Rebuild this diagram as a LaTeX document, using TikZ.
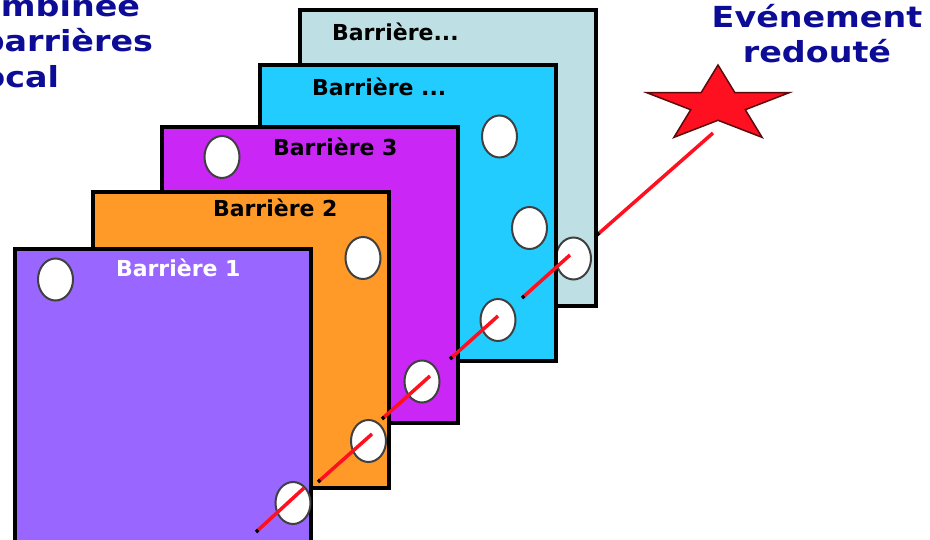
\documentclass[tikz,border=0pt]{standalone}
\usepackage{fontspec}
\setmainfont{DejaVu Sans}
\usetikzlibrary{shapes.geometric, arrows.meta}
\definecolor{lilac}{RGB}{153,102,255}
\definecolor{tangerine}{RGB}{255,153,40}
\definecolor{orchid}{RGB}{202,38,245}
\definecolor{skyblue}{RGB}{34,204,255}
\definecolor{frost}{RGB}{190,224,228}
\definecolor{navyink}{RGB}{12,12,150}
\definecolor{starred}{RGB}{255,16,32}
\definecolor{starline}{RGB}{90,10,10}

\begin{document}
\begin{tikzpicture}[
  x=1pt, y=-1pt,
  every node/.style={
    inner sep=0pt,
    outer sep=0pt,
  },
  barrier/.style={draw=black, line width=3.5pt, minimum width=296pt, minimum height=296pt, anchor=north west},
  hole/.style={ellipse, draw=black!75, line width=2pt, fill=white, minimum width=35pt, minimum height=42pt},
  tag/.style={anchor=base west, font=\fontsize{22}{26}\selectfont\bfseries},
  heading/.style={text=navyink, xscale=1.15, font=\fontsize{29}{35}\selectfont\bfseries},
  ray/.style={draw=starred, line width=3.5pt, arrows={Square[black,length=3pt,width=3.5pt]-}},
]

\useasboundingbox (0,0) rectangle (930,540);
\clip (0,0) rectangle (930,540);

% barriers, back to front
\node[barrier, fill=frost] (p5) at (300,10) {};
\node[hole] (h5) at (573.5,258.5) {};
\node[tag] (t5) at (332,41) {Barrière...};

\node[barrier, fill=skyblue] (p4) at (260,65) {};
\node[hole] (h4a) at (499.5,136.5) {};
\node[hole] (h4b) at (529.5,228) {};
\node[hole] (h4c) at (498,320) {};
\node[tag] (t4) at (312,96) {Barrière ...};

\node[barrier, fill=orchid] (p3) at (162,127) {};
\node[hole] (h3a) at (222,157) {};
\node[hole] (h3b) at (422,381.5) {};
\node[tag] (t3) at (273,156) {Barrière 3};

\node[barrier, fill=tangerine] (p2) at (93,192) {};
\node[hole] (h2a) at (363,258) {};
\node[hole] (h2b) at (368.5,441) {};
\node[tag] (t2) at (213,217) {Barrière 2};

\node[barrier, fill=lilac] (p1) at (15,249) {};
\node[hole] (h1a) at (55.5,279.5) {};
\node[hole] (h1b) at (293,503) {};
\node[tag, text=white] (t1) at (116,277) {Barrière 1};

% the accident path
\coordinate (r1) at (256,532);
\coordinate (r1e) at (304,488);
\coordinate (r2) at (318,482);
\coordinate (r2e) at (372,434);
\coordinate (r3) at (382,419);
\coordinate (r3e) at (430,376);
\coordinate (r4) at (450,359);
\coordinate (r4e) at (498,316);
\coordinate (r5) at (522,298);
\coordinate (r5e) at (570,255);
\coordinate (r6) at (597,235);
\coordinate (r6e) at (713,133);
\draw[ray] (r1) -- (r1e);
\draw[ray] (r2) -- (r2e);
\draw[ray] (r3) -- (r3e);
\draw[ray] (r4) -- (r4e);
\draw[ray] (r5) -- (r5e);
\draw[ray] (r6) -- (r6e);

\node[star, star points=5, star point ratio=2.618, minimum size=80pt, draw=starline, fill=starred, line width=1.5pt, xscale=1.875] (evt) at (718,105) {};

\node[heading, anchor=base] (evt1) at (817,28) {Evénement};
\node[heading, anchor=base] (evt2) at (817,63) {redouté};

\node[heading, anchor=base east] (tl1) at (140,17) {combinée};
\node[heading, anchor=base east] (tl2) at (153,52) {barrières};
\node[heading, anchor=base east] (tl3) at (59,88) {local};

\end{tikzpicture}
\end{document}
